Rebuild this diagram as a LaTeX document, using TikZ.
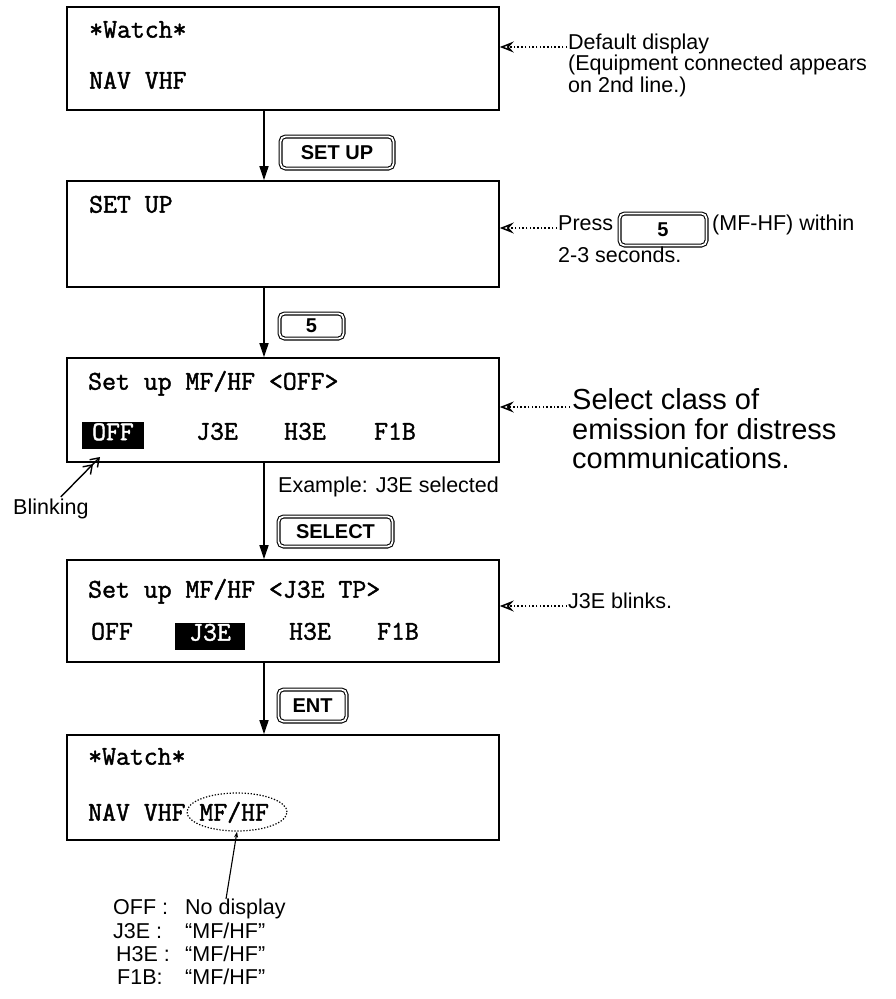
\documentclass[tikz,border=0pt]{standalone}
\usepackage{fontspec}
\setmainfont{Liberation Sans}
\newfontfamily\lcdfont[FakeBold=1.6]{Latin Modern Mono}
\usetikzlibrary{arrows.meta,shapes.geometric}
\begin{document}
\begin{tikzpicture}[x=1pt,y=-1pt,
 screen/.style={draw, line width=1.6pt, minimum width=432pt, inner sep=0pt},
 lcd/.style={font=\lcdfont\fontsize{27}{27}\selectfont, anchor=mid west, inner sep=0pt},
 lcdc/.style={font=\lcdfont\fontsize{27}{27}\selectfont, anchor=mid, inner sep=0pt},
 inv/.style={fill=black, inner sep=0pt},
 key/.style={draw, double, double distance=1.8pt, line width=1.1pt, rounded corners=5pt, inner sep=0pt, font=\bfseries\fontsize{20}{20}\selectfont},
 lbl/.style={font=\fontsize{21.5}{21.5}\selectfont, anchor=mid west, inner sep=0pt},
 big/.style={font=\fontsize{29}{29}\selectfont, anchor=mid west, inner sep=0pt},
 flow/.style={line width=1.4pt, -{Triangle[length=14pt,width=9pt]}},
 callout/.style={line width=1.4pt, dash pattern=on 1.5pt off 2.2pt, -{Stealth[open,length=14pt,width=11pt,inset=5pt,line width=1.5pt]}},
]
\useasboundingbox (0,0) rectangle (896,999);

% screens
\node[screen, minimum height=103pt] (b1) at (283,58.5) {};
\node[screen, minimum height=106pt] (b2) at (283,234) {};
\node[screen, minimum height=104pt] (b3) at (283,410) {};
\node[screen, minimum height=102pt] (b4) at (283,611) {};
\node[screen, minimum height=105pt] (b5) at (283,787.5) {};

% screen texts
\node[lcd] (t1a) at (89,35) {*Watch*};
\node[lcd] (t1b) at (89,86) {NAV VHF};
\node[lcd] (t2a) at (89,210) {SET UP};
\node[lcd] (t3a) at (88,387) {Set up MF/HF <OFF>};
\node[inv, minimum width=62pt, minimum height=27pt] (t3off) at (113,435) {};
\node[lcdc, text=white] (t3o) at (113,437.5) {OFF};
\node[lcdc] (t3j) at (217,437) {J3E};
\node[lcdc] (t3h) at (305,437) {H3E};
\node[lcdc] (t3f) at (395,437) {F1B};
\node[lcd] (t4a) at (88,595) {Set up MF/HF <J3E TP>};
\node[lcdc] (t4o) at (112,637) {OFF};
\node[inv, minimum width=70pt, minimum height=27pt] (t4jbox) at (210,636) {};
\node[lcdc, text=white] (t4j) at (210,638) {J3E};
\node[lcdc] (t4h) at (310,637) {H3E};
\node[lcdc] (t4f) at (398,637) {F1B};
\node[lcd] (t5a) at (88,762) {*Watch*};
\node[lcd] (t5b) at (88,818) {NAV VHF MF/HF};
\node[ellipse, draw, line width=1.2pt, dash pattern=on 1.3pt off 1.7pt, minimum width=100pt, minimum height=38pt, inner sep=0pt] (ell) at (237,812) {};

% flow arrows
\coordinate (ax) at (264,0);
\draw[flow] (b1.south -| ax) -- (b2.north -| ax);
\draw[flow] (b2.south -| ax) -- (b3.north -| ax);
\draw[flow] (b3.south -| ax) -- (b4.north -| ax);
\draw[flow] (b4.south -| ax) -- (b5.north -| ax);

% keys
\node[key, minimum width=113pt, minimum height=32pt] (kset) at (337,152.5) {SET UP};
\node[key, minimum width=64pt, minimum height=25pt] (k5) at (311.5,326) {5};
\node[key, minimum width=114pt, minimum height=30pt] (ksel) at (335.5,531.5) {SELECT};
\node[key, minimum width=68pt, minimum height=32pt] (kent) at (312.5,705.5) {ENT};

\node[lbl] (ex) at (278,490) {Example: J3E selected};

% right-hand notes
\node[lbl] (n1a) at (568,47) {Default display};
\node[lbl] (n1b) at (568,68) {(Equipment connected appears};
\node[lbl] (n1c) at (568,90) {on 2nd line.)};
\draw[callout] ([xshift=-1pt]n1a.mid west) -- (b1.east |- n1a.mid west);

\node[lbl] (n2a) at (558,228) {Press};
\node[key, minimum width=87pt, minimum height=32pt] (k5b) at (663,229.5) {5};
\node[lbl] (n2b) at (712,228) {(MF-HF) within};
\node[lbl] (n2c) at (558,260) {2-3 seconds.};
\draw[callout] ([xshift=-1pt]n2a.mid west) -- (b2.east |- n2a.mid west);

\node[big] (n3a) at (572,407) {Select class of};
\node[big] (n3b) at (572,437) {emission for distress};
\node[big] (n3c) at (572,466) {communications.};
\draw[callout] ([xshift=-2pt]n3a.mid west) -- (b3.east |- n3a.mid west);

\node[lbl] (n4a) at (568,606) {J3E blinks.};
\draw[callout] ([xshift=-1pt]n4a.mid west) -- (b4.east |- n4a.mid west);

% blinking pointer
\node[lbl] (blink) at (13,512) {Blinking};
\coordinate (btip) at (100,457);
\draw[line width=1.4pt, -{Straight Barb[length=8pt,width=11pt,line width=1.4pt] Straight Barb[length=8pt,width=11pt,line width=1.4pt]}] ([xshift=10pt,yshift=2pt]blink.north) -- (btip);

% bottom legend
\node[lbl] (o1) at (113,912) {OFF :};
\node[lbl] (o2) at (113,936) {J3E :};
\node[lbl] (o3) at (116,959) {H3E :};
\node[lbl] (o4) at (117,982) {F1B:};
\node[lbl] (v1) at (185,912) {No display};
\node[lbl] (v2) at (185,936) {“MF/HF”};
\node[lbl] (v3) at (185,959) {“MF/HF”};
\node[lbl] (v4) at (185,982) {“MF/HF”};
\coordinate (ptr) at (226,899);
\draw[line width=1.1pt, -{Stealth[length=6pt,width=4pt]}] (ptr) -- (ell.south);
\end{tikzpicture}
\end{document}
